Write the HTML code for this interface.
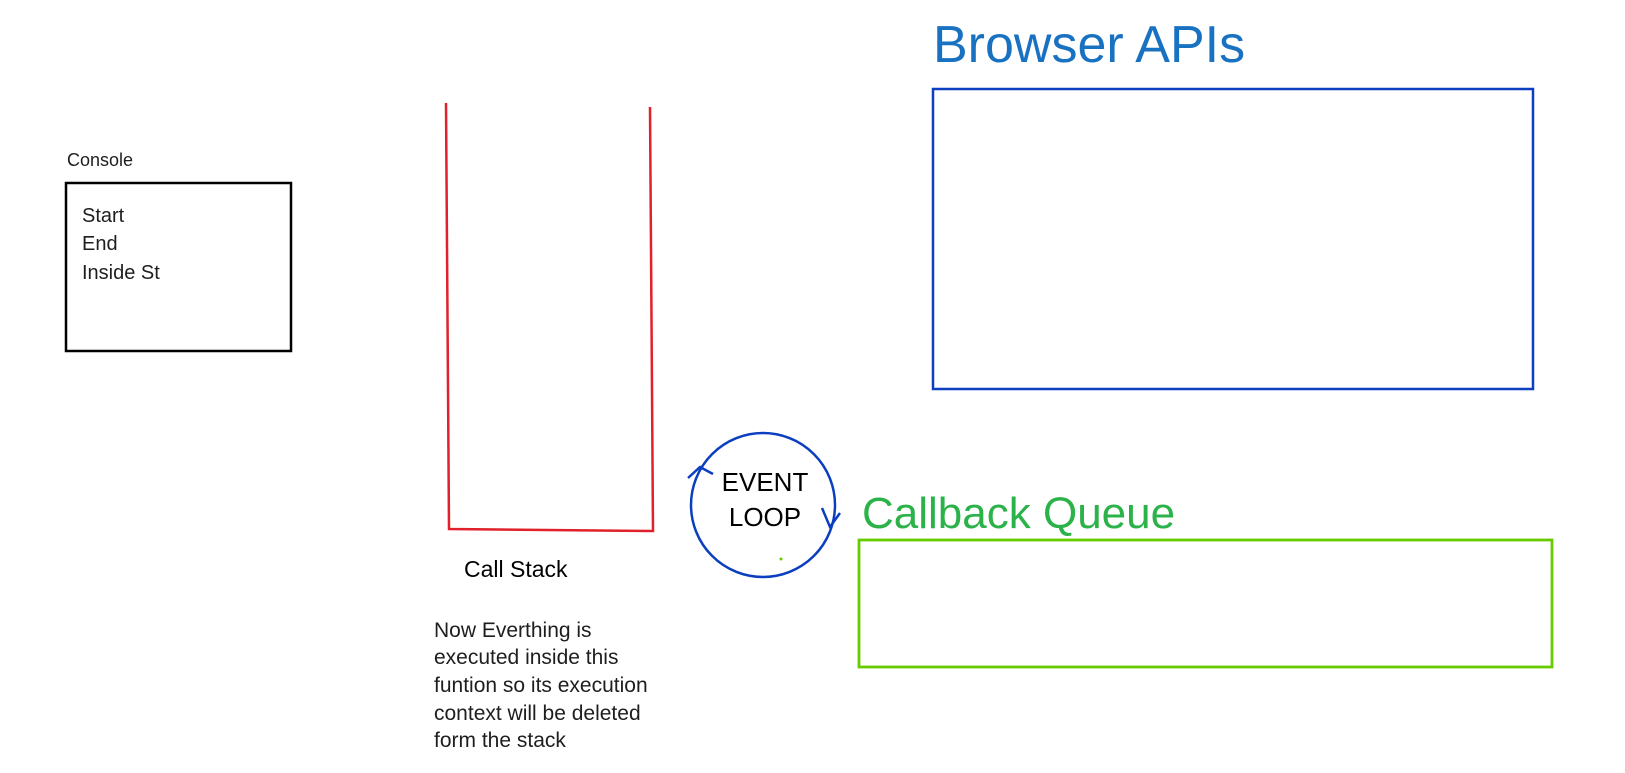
<!DOCTYPE html>
<html><head><meta charset="utf-8"><style>
html,body{margin:0;padding:0;background:#fff;}
svg{display:block;}
text{font-family:"Liberation Sans",sans-serif;}
</style></head><body>
<svg width="1625" height="773" viewBox="0 0 1625 773" xmlns="http://www.w3.org/2000/svg">
<rect width="1625" height="773" fill="#fff"/>
<text x="67" y="166" font-size="18" fill="#1e1e1e">Console</text>
<rect x="66" y="183" width="225" height="168" fill="none" stroke="#000" stroke-width="2.5"/>
<text x="82" y="222" font-size="20" fill="#1e1e1e">Start</text>
<text x="82" y="250" font-size="20" fill="#1e1e1e">End</text>
<text x="82" y="279" font-size="20" fill="#1e1e1e">Inside St</text>
<path d="M446 103 L449 529 L653 531 L650 107" fill="none" stroke="#e0202a" stroke-width="2.5"/>
<text x="464" y="577" font-size="23" fill="#000">Call Stack</text>
<g font-size="21" fill="#1e1e1e">
<text x="434" y="637">Now Everthing is</text>
<text x="434" y="664">executed inside this</text>
<text x="434" y="692">funtion so its execution</text>
<text x="434" y="720">context will be deleted</text>
<text x="434" y="747">form the stack</text>
</g>
<text x="933" y="62" font-size="52" fill="#1971c2">Browser APIs</text>
<rect x="933" y="89" width="600" height="300" fill="none" stroke="#0b3fc0" stroke-width="2.5"/>
<circle cx="763" cy="505" r="72" fill="none" stroke="#0b3fc0" stroke-width="2.5"/>
<path d="M688 478 L700 467 L713 474" fill="none" stroke="#0b3fc0" stroke-width="2.5"/>
<path d="M822 508 L830 527 L840 513" fill="none" stroke="#0b3fc0" stroke-width="2.5"/>
<text x="765" y="491" font-size="26" fill="#000" text-anchor="middle">EVENT</text>
<text x="765" y="526" font-size="26" fill="#000" text-anchor="middle">LOOP</text>
<circle cx="781" cy="559" r="1.5" fill="#66cc00"/>
<text x="862" y="528" font-size="44" fill="#2bb34a">Callback Queue</text>
<rect x="859" y="540" width="693" height="127" fill="none" stroke="#66cc00" stroke-width="2.8"/>
</svg>
</body></html>
